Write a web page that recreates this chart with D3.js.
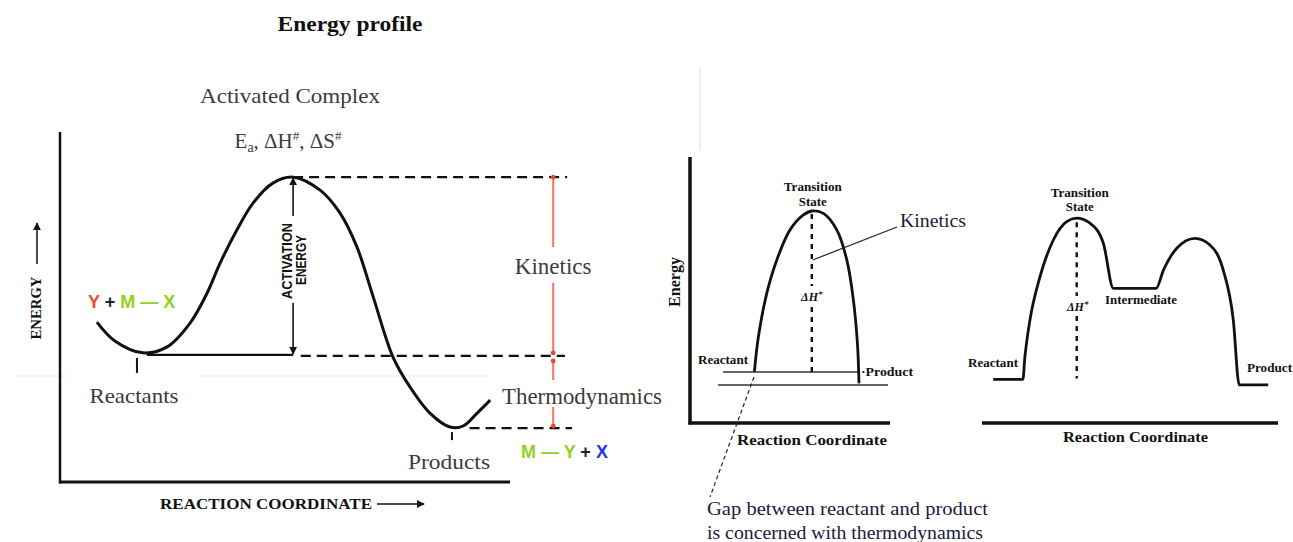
<!DOCTYPE html>
<html>
<head>
<meta charset="utf-8">
<script src="https://cdn.jsdelivr.net/npm/d3@7"></script>
<style>
  body { margin: 0; background: #fff; }
  svg { display: block; }
</style>
</head>
<body>
<svg id="chart" width="1293" height="542"></svg>
<script>
// all readings in panel units: reaction coordinate 0-100, energy 0-100

// left panel: Y + M-X -> M-Y + X
const leftCurve = [
  [8.2, 45.7], [12.2, 40.3], [18.4, 36.9], [23.8, 38.6], [28.9, 45.4],
  [32.7, 54.0], [35.6, 62.6], [39.3, 72.0], [42.9, 79.7], [47.3, 85.4],
  [51.8, 87.1], [57.8, 83.4], [62.2, 76.9], [66.0, 67.1], [69.6, 52.9],
  [74.0, 35.7], [77.8, 27.1], [82.2, 19.7], [86.7, 15.7], [89.6, 16.0],
  [92.7, 19.7], [95.6, 23.4]
];
const leftLevels = [36.3, 87.1, 15.4];   // reactants, activated complex, products
const leftMinimaX = [17.1, 87.1];        // reactant / product minima (ticks)
const leftPeakX = 51.8;

// middle panel: single step
const midCurve = [
  [32.2, 19.3], [34.2, 32.4], [38.4, 48.8], [43.4, 61.3], [50.0, 72.6],
  [56.7, 78.2], [60.9, 79.7], [66.7, 78.8], [73.4, 72.6], [78.4, 61.3],
  [81.7, 46.2], [83.7, 30.0], [84.5, 14.9]
];
const midLevels = [19.2, 79.7, 14.3];    // reactant, transition state, product
const midPeakX = 60.9;

// right panel: two steps with intermediate
const rightCurve = [
  [3.8, 16.4], [13.8, 16.4], [14.5, 24.9], [16.2, 38.7], [19.6, 55.0],
  [24.1, 68.8], [28.6, 75.7], [32.0, 77.0], [36.5, 75.1], [41.0, 67.6],
  [44.4, 50.6], [58.8, 50.6], [61.3, 57.5], [65.8, 65.7], [72.0, 69.4],
  [77.0, 66.9], [81.5, 57.5], [84.9, 38.7], [86.9, 14.3], [96.7, 14.3]
];
const rightLevels = [16.4, 77.0, 50.6, 14.3]; // reactant, TS, intermediate, product
const rightPeakX = 32.0;

const serif = '"Liberation Serif","Times New Roman",serif';
const sans = '"Liberation Sans",Arial,sans-serif';
const grayText = "#3b3b3b";

const svg = d3.select("#chart");
svg.append("rect").attr("width", 1293).attr("height", 542).attr("fill", "#fff");

const defs = svg.append("defs");
defs.append("marker")
  .attr("id", "arrow")
  .attr("viewBox", "0 0 10 10")
  .attr("refX", 9).attr("refY", 5)
  .attr("markerUnits", "userSpaceOnUse")
  .attr("markerWidth", 8).attr("markerHeight", 8)
  .attr("orient", "auto")
  .append("path").attr("d", "M0,0 L10,5 L0,10 z").attr("fill", "#111");

function line(g, x1, y1, x2, y2, w, color, dash) {
  const l = g.append("line")
    .attr("x1", x1).attr("y1", y1).attr("x2", x2).attr("y2", y2)
    .attr("stroke", color || "#111").attr("stroke-width", w);
  if (dash) l.attr("stroke-dasharray", dash);
  return l;
}

function text(g, x, y, s, size, opts) {
  opts = opts || {};
  const t = g.append("text")
    .attr("x", x).attr("y", y)
    .attr("font-family", opts.family || serif)
    .attr("font-size", size)
    .attr("font-weight", opts.weight || "normal")
    .attr("fill", opts.fill || "#111")
    .attr("text-anchor", opts.anchor || "start")
    .text(s);
  if (opts.italic) t.attr("font-style", "italic");
  if (opts.len) t.attr("textLength", opts.len).attr("lengthAdjust", "spacingAndGlyphs");
  return t;
}

// faint scan artefacts
line(svg, 15, 376, 68, 376, 1, "#ececec");
line(svg, 200, 376, 490, 376, 1, "#ececec");
line(svg, 700, 68, 700, 150, 1, "#dcdcdc");

// ---------------- left panel ----------------
const xL = d3.scaleLinear().domain([0, 100]).range([60, 510]);
const yL = d3.scaleLinear().domain([0, 100]).range([482, 132]);
const gL = svg.append("g");

text(gL, 350, 31, "Energy profile", 21, { weight: "bold", anchor: "middle", len: 145 });

line(gL, xL(0), yL(100), xL(0), yL(0) + 1.5, 2.5);
line(gL, xL(0) - 1, yL(0), xL(100), yL(0), 3);

gL.append("path")
  .datum(leftCurve)
  .attr("d", d3.line().x(d => xL(d[0])).y(d => yL(d[1])).curve(d3.curveCatmullRom))
  .attr("fill", "none").attr("stroke", "#111").attr("stroke-width", 3);

// energy levels
line(gL, xL(19.3), yL(leftLevels[0]), xL(leftPeakX), yL(leftLevels[0]), 2.2);
line(gL, xL(53.5), yL(leftLevels[0]) + 1, xL(112.2), yL(leftLevels[0]) + 1, 2.2, "#111", "10,6");
line(gL, xL(leftPeakX), yL(leftLevels[1]), xL(112.7), yL(leftLevels[1]), 2.2, "#111", "10,6");
line(gL, xL(91), yL(leftLevels[2]), xL(113.8), yL(leftLevels[2]), 2.2, "#111", "10,6");

// minimum ticks
line(gL, xL(leftMinimaX[0]), yL(leftLevels[0]) + 3, xL(leftMinimaX[0]), yL(leftLevels[0]) + 18, 2);
line(gL, xL(leftMinimaX[1]), yL(leftLevels[2]) + 4, xL(leftMinimaX[1]), yL(leftLevels[2]) + 12, 2);

// activation energy double arrow
const aX = xL(leftPeakX);
line(gL, aX, 216, aX, yL(leftLevels[1]) + 1, 1.6).attr("marker-end", "url(#arrow)");
line(gL, aX, 303, aX, yL(leftLevels[0]) - 1, 1.6).attr("marker-end", "url(#arrow)");
text(gL, 0, 0, "ACTIVATION", 15, { family: sans, weight: "bold", anchor: "middle", len: 76 })
  .attr("transform", `translate(${aX - 1},261) rotate(-90)`);
text(gL, 0, 0, "ENERGY", 15, { family: sans, weight: "bold", anchor: "middle", len: 50 })
  .attr("transform", `translate(${aX + 13},260) rotate(-90)`);

// red kinetics / thermodynamics bracket
const rX = xL(109.6);
const red = "#f5735c";
line(gL, rX, yL(leftLevels[1]), rX, 247, 2, red);
line(gL, rX, 283, rX, yL(leftLevels[0]) - 2, 2, red);
line(gL, rX, yL(leftLevels[0]) + 6, rX, 380, 2, red);
line(gL, rX, 407, rX, yL(leftLevels[2]) - 2, 2, red);
[yL(leftLevels[1]), yL(leftLevels[0]) - 2, yL(leftLevels[0]) + 6, yL(leftLevels[2]) - 2].forEach(y => {
  gL.append("circle").attr("cx", rX).attr("cy", y).attr("r", 2.4).attr("fill", "#f0442c");
});

text(gL, rX, 274, "Kinetics", 23, { fill: grayText, anchor: "middle" });
text(gL, 582, 404, "Thermodynamics", 23, { fill: grayText, anchor: "middle", len: 160 });
text(gL, 290, 103, "Activated Complex", 22, { fill: grayText, anchor: "middle", len: 180 });

const ea = gL.append("text").attr("x", 288).attr("y", 148)
  .attr("font-family", serif).attr("font-size", 21).attr("fill", grayText)
  .attr("text-anchor", "middle");
ea.append("tspan").text("E");
ea.append("tspan").text("a").attr("font-size", 14).attr("dy", 4);
ea.append("tspan").text(", ΔH").attr("dy", -4);
ea.append("tspan").text("#").attr("font-size", 13).attr("dy", -8);
ea.append("tspan").text(", ΔS").attr("dy", 8);
ea.append("tspan").text("#").attr("font-size", 13).attr("dy", -8);

text(gL, xL(leftMinimaX[0]) - 3, 403, "Reactants", 22, { fill: grayText, anchor: "middle", len: 89 });
text(gL, 449, 469, "Products", 22, { fill: grayText, anchor: "middle", len: 82 });

const green = "#8fd21e";
const reac = gL.append("text").attr("x", 88).attr("y", 308)
  .attr("font-family", sans).attr("font-size", 18).attr("font-weight", "bold");
reac.append("tspan").text("Y").attr("fill", "#f3482a");
reac.append("tspan").text(" + ").attr("fill", "#222");
reac.append("tspan").text("M — X").attr("fill", green);

const prod = gL.append("text").attr("x", 521).attr("y", 458)
  .attr("font-family", sans).attr("font-size", 18).attr("font-weight", "bold");
prod.append("tspan").text("M — Y").attr("fill", green);
prod.append("tspan").text(" + ").attr("fill", "#222");
prod.append("tspan").text("X").attr("fill", "#2233e6");

// axis titles
text(gL, 0, 0, "ENERGY", 14, { weight: "bold", anchor: "middle", len: 63 })
  .attr("transform", "translate(41,308) rotate(-90)");
line(gL, 37, 264, 37, 223, 1.5).attr("marker-end", "url(#arrow)");
text(gL, 160, 509, "REACTION COORDINATE", 15, { weight: "bold", len: 212 });
line(gL, 377, 504, 424, 504, 1.5).attr("marker-end", "url(#arrow)");

// ---------------- middle panel ----------------
const xM = d3.scaleLinear().domain([0, 100]).range([690, 890]);
const yM = d3.scaleLinear().domain([0, 100]).range([423, 157]);
const gM = svg.append("g");

line(gM, xM(0), yM(100), xM(0), yM(0) + 1.5, 3.5);
line(gM, xM(0) - 1.5, yM(0), xM(100), yM(0), 3.5);

line(gM, xM(16.5), yM(midLevels[0]), xM(85), yM(midLevels[0]), 1.5, "#333");
line(gM, xM(14), yM(midLevels[2]), xM(99), yM(midLevels[2]), 1.5, "#333");

gM.append("path")
  .datum(midCurve)
  .attr("d", d3.line().x(d => xM(d[0])).y(d => yM(d[1])).curve(d3.curveCatmullRom))
  .attr("fill", "none").attr("stroke", "#111").attr("stroke-width", 2.8);

line(gM, xM(midPeakX), yM(midLevels[1]) + 3, xM(midPeakX), 286, 2.4, "#111", "5,5");
line(gM, xM(midPeakX), 307, xM(midPeakX), yM(midLevels[0]), 2.4, "#111", "5,5");

const dhM = gM.append("text").attr("x", xM(midPeakX)).attr("y", 301)
  .attr("font-family", serif).attr("font-size", 12).attr("font-style", "italic")
  .attr("font-weight", "bold").attr("text-anchor", "middle").attr("fill", "#111");
dhM.append("tspan").text("ΔH");
dhM.append("tspan").text("*").attr("font-size", 9).attr("dy", -4);

text(gM, xM(midPeakX) + 1, 191, "Transition", 12, { weight: "bold", anchor: "middle", len: 58 });
text(gM, xM(midPeakX) + 1, 206, "State", 12, { weight: "bold", anchor: "middle", len: 28 });
text(gM, 698, 364, "Reactant", 12, { weight: "bold", len: 50 });
text(gM, 861, 376, "·Product", 12, { weight: "bold", len: 52 });

text(gM, 0, 0, "Energy", 16, { weight: "bold", anchor: "middle", len: 50 })
  .attr("transform", "translate(680,282) rotate(-90)");
text(gM, 737, 445, "Reaction Coordinate", 15, { weight: "bold", len: 150 });

const navy = "#1a1a3c";
text(gM, 900, 227, "Kinetics", 19, { fill: navy, len: 66 });
line(gM, 897, 227, xM(midPeakX) + 1, yM(61.3), 1.2, "#222");

line(gM, xM(32), yM(17.3), xM(10), yM(-27.8), 1.2, "#222", "4,3");
text(gM, 707, 515, "Gap between reactant and product", 19, { fill: navy, len: 281 });
text(gM, 707, 539, "is concerned with thermodynamics", 19, { fill: navy, len: 276 });

// ---------------- right panel ----------------
const xR = d3.scaleLinear().domain([0, 100]).range([982, 1278]);
const yR = d3.scaleLinear().domain([0, 100]).range([423, 157]);
const gR = svg.append("g");

line(gR, xR(0), yR(0), xR(100), yR(0), 3.5);

gR.append("path")
  .datum(rightCurve)
  .attr("d", d3.line().x(d => xR(d[0])).y(d => yR(d[1])).curve(d3.curveMonotoneX))
  .attr("fill", "none").attr("stroke", "#111").attr("stroke-width", 2.8);

line(gR, xR(rightPeakX), yR(rightLevels[1]) + 4, xR(rightPeakX), 296, 2.4, "#111", "5,5");
line(gR, xR(rightPeakX), 316, xR(rightPeakX), yR(rightLevels[0]) - 1, 2.4, "#111", "5,5");

const dhR = gR.append("text").attr("x", xR(rightPeakX) + 1).attr("y", 311)
  .attr("font-family", serif).attr("font-size", 12).attr("font-style", "italic")
  .attr("font-weight", "bold").attr("text-anchor", "middle").attr("fill", "#111");
dhR.append("tspan").text("ΔH");
dhR.append("tspan").text("*").attr("font-size", 9).attr("dy", -4);

text(gR, xR(rightPeakX) + 3, 197, "Transition", 12, { weight: "bold", anchor: "middle", len: 58 });
text(gR, xR(rightPeakX) + 3, 211, "State", 12, { weight: "bold", anchor: "middle", len: 28 });
text(gR, 1105, 304, "Intermediate", 12, { weight: "bold", len: 72 });
text(gR, 968, 367, "Reactant", 12, { weight: "bold", len: 50 });
text(gR, 1247, 372, "Product", 12, { weight: "bold", len: 45 });
text(gR, 1063, 442, "Reaction Coordinate", 15, { weight: "bold", len: 145 });
</script>
</body>
</html>
